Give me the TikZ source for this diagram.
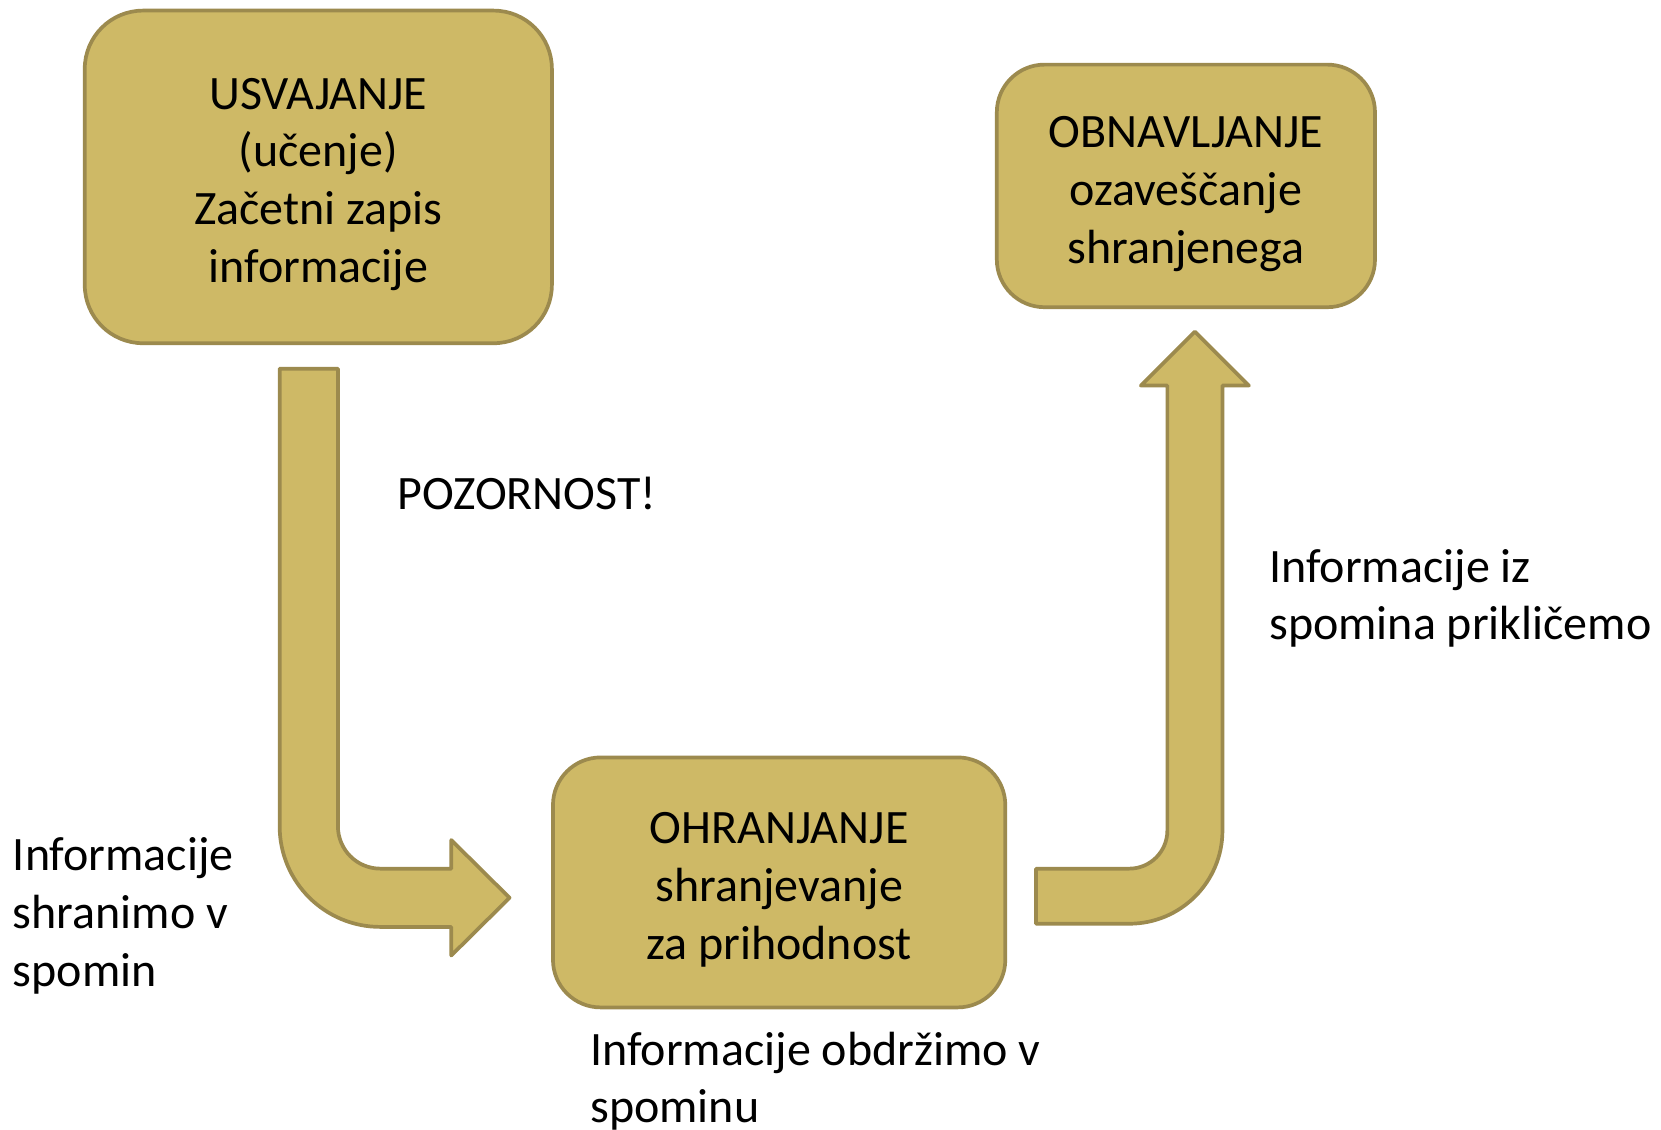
\documentclass[tikz,border=0pt]{standalone}
\usepackage{fontspec}
\setmainfont{Carlito}
\definecolor{boxfill}{RGB}{206,185,102}
\definecolor{boxline}{RGB}{156,138,78}
\pgfdeclareradialshading{bgshade}{\pgfpoint{0bp}{0bp}}{color(0bp)=(white); color(40bp)=(white); color(52bp)=(black!9); color(70bp)=(black!9)}
\tikzset{
  txt/.style={font=\fontsize{45.3}{54.5}\selectfont, inner sep=0pt},
  stagebox/.style={draw=boxline, fill=boxfill, line width=3.5pt},
  boxtext/.style={txt, align=center},
  blockarrow/.style={draw=boxline, fill=boxfill, line width=3.5pt, line join=round},
  label/.style={txt, align=left, anchor=base west}
}
\begin{document}
\begin{tikzpicture}[x=1pt,y=-1pt]
\useasboundingbox (0,0) rectangle (1568,1066);
\begin{scope}
\clip (0,0) rectangle (1568,1066);
\shade[shading=bgshade] (-450,-400) rectangle (1750,1200);
\end{scope}
% boxes
\node[stagebox, minimum width=441pt, minimum height=314pt, rounded corners=55pt] (usv) at (300.5,167) {};
\node[boxtext] (usvtext) at ([yshift=-7pt]usv.center) {USVAJANJE\\(učenje)\\Začetni zapis\\informacije};
\node[stagebox, minimum width=357pt, minimum height=229pt, rounded corners=45pt] (obn) at (1119.5,175.5) {};
\node[boxtext] (obntext) at ([yshift=-7.5pt]obn.center) {OBNAVLJANJE\\ozaveščanje\\shranjenega};
\node[stagebox, minimum width=427pt, minimum height=236pt, rounded corners=45pt] (ohr) at (735.5,833) {};
\node[boxtext] (ohrtext) at ([yshift=-7pt]ohr.center) {OHRANJANJE\\shranjevanje\\za prihodnost};
% bent arrows
\draw[blockarrow] (264,348) -- (319,348) -- (319,780)
  arc[start angle=180, end angle=90, radius=40] -- (426,820) -- (426,793) -- (481,847.5)
  -- (426,902) -- (426,875) -- (359,875) arc[start angle=90, end angle=180, radius=95] -- cycle;
\draw[blockarrow] (978,820) -- (1066,820) arc[start angle=90, end angle=0, radius=36]
  -- (1102,364) -- (1077,364) -- (1128,313) -- (1179,364) -- (1154,364) -- (1154,784)
  arc[start angle=0, end angle=90, radius=88] -- (978,872) -- cycle;
% labels (anchor at baseline of last line)
\node[label] (pozor) at (375,481) {POZORNOST!};
\node[label] (iz) at (1198,604) {Informacije iz\\spomina prikličemo};
\node[label] (shr) at (12,931) {Informacije\\shranimo v\\spomin};
\node[label] (obd) at (557,1060) {Informacije obdržimo v\\spominu};
\end{tikzpicture}
\end{document}
